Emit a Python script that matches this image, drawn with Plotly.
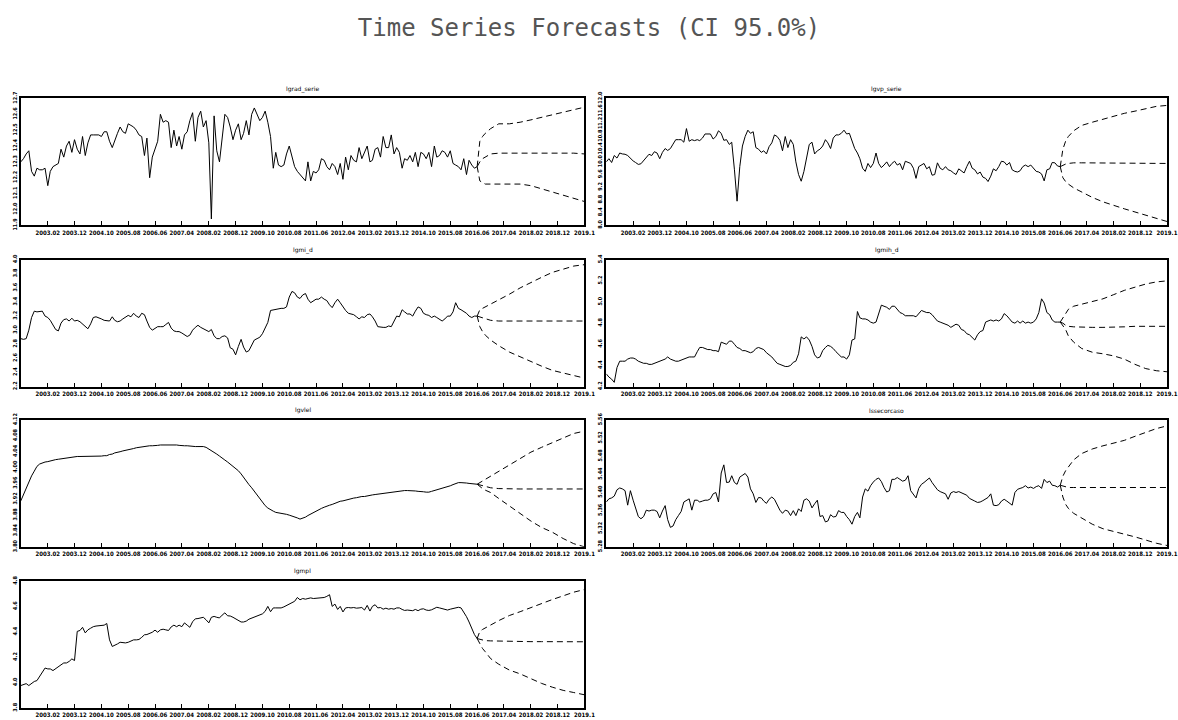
import pandas as pd
import plotly.graph_objects as go

# ---- time axis -------------------------------------------------------------
first_month = "2002-04-01"
n_hist = 171          # 2002.04 .. 2016.06
horizon = 40          # forecast out to 2019.10
fc_steps = [0, 1, 2, 3, 5, 8, 12, 16, 20, 24, 28, 32, 36, 40]

tick_labels = ["2003.02", "2003.12", "2004.10", "2005.08", "2006.06", "2007.04",
               "2008.02", "2008.12", "2009.10", "2010.08", "2011.06", "2012.04",
               "2013.02", "2013.12", "2014.10", "2015.08", "2016.06", "2017.04",
               "2018.02", "2018.12", "2019.1"]

# ---- observed series -------------------------------------------------------
lgrad_serie = [
    12.30, 12.32, 12.35, 12.37, 12.24, 12.21, 12.26, 12.25, 12.25, 12.26,
    12.15, 12.24, 12.27, 12.28, 12.29, 12.38, 12.33, 12.40, 12.43, 12.36,
    12.44, 12.38, 12.35, 12.46, 12.34, 12.42, 12.47, 12.47, 12.47, 12.47,
    12.46, 12.49, 12.49, 12.43, 12.39, 12.44, 12.48, 12.52, 12.49, 12.48,
    12.54, 12.53, 12.52, 12.50, 12.47, 12.46, 12.34, 12.45, 12.20, 12.33,
    12.38, 12.43, 12.60, 12.55, 12.56, 12.55, 12.39, 12.50, 12.40, 12.46,
    12.38, 12.47, 12.49, 12.56, 12.61, 12.43, 12.58, 12.62, 12.52, 12.56,
    12.42, 11.94, 12.59, 12.37, 12.30, 12.46, 12.60, 12.58, 12.52, 12.44,
    12.50, 12.54, 12.44, 12.48, 12.56, 12.47, 12.60, 12.64, 12.60, 12.56,
    12.58, 12.62, 12.55, 12.46, 12.26, 12.36, 12.28, 12.27, 12.28, 12.35,
    12.40, 12.33, 12.27, 12.24, 12.22, 12.20, 12.18, 12.30, 12.18, 12.24,
    12.23, 12.25, 12.32, 12.31, 12.27, 12.25, 12.29, 12.27, 12.22, 12.29,
    12.19, 12.33, 12.25, 12.34, 12.31, 12.30, 12.39, 12.32, 12.36, 12.40,
    12.30, 12.31, 12.38, 12.39, 12.33, 12.46, 12.39, 12.39, 12.47, 12.35,
    12.39, 12.36, 12.26, 12.32, 12.31, 12.34, 12.30, 12.36, 12.27, 12.36,
    12.35, 12.32, 12.36, 12.27, 12.40, 12.33, 12.34, 12.37, 12.36, 12.33,
    12.37, 12.29, 12.28, 12.27, 12.25, 12.32, 12.22, 12.31, 12.28, 12.26,
    12.27]

lgvp_serie = [
    10.00, 10.10, 9.98, 10.20, 10.12, 10.28, 10.25, 10.24, 10.20, 10.10,
    10.03, 9.98, 9.92, 9.94, 10.04, 10.15, 10.24, 10.20, 10.32, 10.28,
    10.10, 10.30, 10.42, 10.36, 10.42, 10.56, 10.70, 10.70, 10.70, 10.62,
    11.05, 10.65, 10.70, 10.67, 10.70, 10.67, 10.75, 10.88, 10.88, 10.88,
    10.72, 10.80, 10.98, 10.90, 10.68, 10.70, 10.55, 10.62, 9.75, 8.76,
    9.85, 10.50, 10.80, 11.00, 10.90, 10.95, 10.45, 10.40, 10.30, 10.35,
    10.25, 10.48, 10.60, 10.85, 10.80, 10.68, 10.35, 10.80, 10.45, 10.70,
    10.55, 10.00, 9.60, 9.39, 9.70, 10.10, 10.55, 10.62, 10.25, 10.35,
    10.40, 10.50, 10.70, 10.60, 10.42, 10.75, 10.85, 10.85, 10.90, 11.00,
    10.88, 10.90, 10.65, 10.42, 10.28, 10.10, 9.80, 9.70, 9.95, 9.82,
    9.95, 10.28, 9.95, 9.82, 9.90, 10.00, 9.85, 9.95, 10.02, 9.90,
    9.95, 9.75, 10.02, 9.98, 9.95, 9.80, 9.48, 9.85, 9.90, 9.95,
    9.78, 9.85, 9.58, 9.60, 9.97, 9.80, 9.75, 9.85, 9.75, 9.72,
    9.65, 9.60, 9.78, 9.72, 9.65, 9.85, 10.02, 9.80, 9.75, 9.62,
    9.68, 9.52, 9.48, 9.38, 9.55, 9.78, 9.72, 9.85, 10.02, 10.00,
    9.90, 9.98, 9.75, 9.70, 9.68, 9.72, 9.85, 9.90, 9.85, 9.90,
    9.78, 9.70, 9.68, 9.62, 9.40, 9.75, 9.78, 9.98, 9.97, 9.87,
    9.85]

lgmi_d = [
    2.88, 2.87, 2.88, 3.00, 3.18, 3.27, 3.26, 3.26, 3.27, 3.20,
    3.18, 3.14, 3.07, 3.01, 2.99, 3.10, 3.15, 3.16, 3.13, 3.17,
    3.13, 3.14, 3.12, 3.09, 3.05, 3.02, 3.09, 3.18, 3.19, 3.18,
    3.16, 3.14, 3.13, 3.13, 3.19, 3.14, 3.12, 3.13, 3.16, 3.19,
    3.21, 3.19, 3.24, 3.20, 3.18, 3.24, 3.22, 3.13, 3.04, 3.00,
    3.02, 3.05, 3.05, 3.05, 3.08, 3.11, 3.03, 2.99, 2.98, 2.98,
    2.96, 2.94, 2.91, 2.93, 3.00, 3.04, 3.07, 3.04, 3.02, 3.00,
    2.98, 3.01, 2.92, 2.88, 2.88, 2.91, 2.92, 2.89, 2.75, 2.73,
    2.65, 2.77, 2.87, 2.76, 2.69, 2.71, 2.79, 2.86, 2.88, 2.90,
    2.95, 3.04, 3.11, 3.28, 3.29, 3.30, 3.30, 3.31, 3.31, 3.33,
    3.47, 3.55, 3.53, 3.47, 3.45, 3.50, 3.52, 3.44, 3.39, 3.42,
    3.44, 3.44, 3.47, 3.44, 3.42, 3.36, 3.32, 3.39, 3.44, 3.39,
    3.33, 3.28, 3.24, 3.23, 3.22, 3.19, 3.16, 3.19, 3.18, 3.22,
    3.23, 3.19, 3.13, 3.05, 3.04, 3.04, 3.04, 3.06, 3.05, 3.12,
    3.20, 3.19, 3.29, 3.26, 3.23, 3.23, 3.20, 3.27, 3.33, 3.31,
    3.24, 3.22, 3.21, 3.18, 3.20, 3.18, 3.16, 3.13, 3.16, 3.20,
    3.20, 3.26, 3.39, 3.31, 3.29, 3.27, 3.24, 3.20, 3.18, 3.20,
    3.20]

lgmih_d = [
    4.32, 4.29, 4.27, 4.24, 4.38, 4.44, 4.44, 4.44, 4.46, 4.47,
    4.47, 4.46, 4.44, 4.43, 4.42, 4.42, 4.41, 4.41, 4.42, 4.43,
    4.44, 4.45, 4.46, 4.48, 4.46, 4.45, 4.44, 4.44, 4.45, 4.46,
    4.47, 4.48, 4.48, 4.48, 4.53, 4.57, 4.57, 4.56, 4.55, 4.55,
    4.54, 4.54, 4.53, 4.62, 4.61, 4.60, 4.63, 4.63, 4.60, 4.57,
    4.56, 4.54, 4.54, 4.53, 4.52, 4.53, 4.56, 4.57, 4.56, 4.55,
    4.52, 4.50, 4.48, 4.45, 4.42, 4.41, 4.40, 4.39, 4.39, 4.40,
    4.43, 4.44, 4.51, 4.67, 4.65, 4.67, 4.64, 4.58, 4.50, 4.47,
    4.48, 4.54, 4.57, 4.59, 4.58, 4.56, 4.53, 4.50, 4.48, 4.48,
    4.46, 4.50, 4.64, 4.65, 4.91, 4.85, 4.84, 4.84, 4.83, 4.81,
    4.80, 4.81, 4.89, 4.97, 4.96, 4.95, 4.93, 4.96, 4.96, 4.93,
    4.90, 4.89, 4.87, 4.87, 4.87, 4.87, 4.86, 4.89, 4.92, 4.91,
    4.90, 4.90, 4.88, 4.85, 4.82, 4.81, 4.80, 4.79, 4.78, 4.76,
    4.78, 4.79, 4.78, 4.74, 4.73, 4.70, 4.69, 4.66, 4.64, 4.69,
    4.72, 4.73, 4.81, 4.82, 4.83, 4.82, 4.83, 4.82, 4.84, 4.89,
    4.87, 4.84, 4.81, 4.80, 4.82, 4.80, 4.82, 4.80, 4.81, 4.80,
    4.81, 4.84, 4.90, 5.03, 4.99, 4.90, 4.88, 4.83, 4.81, 4.81,
    4.81]

lgvlel = [
    3.916, 3.932, 3.948, 3.962, 3.979, 3.991, 4.003, 4.009, 4.012, 4.014,
    4.015, 4.017, 4.018, 4.020, 4.021, 4.022, 4.024, 4.025, 4.026, 4.027,
    4.027, 4.028, 4.028, 4.028, 4.028, 4.028, 4.029, 4.029, 4.029, 4.029,
    4.029, 4.030, 4.030, 4.033, 4.034, 4.037, 4.038, 4.040, 4.042, 4.043,
    4.045, 4.046, 4.048, 4.050, 4.051, 4.053, 4.054, 4.054, 4.055, 4.055,
    4.055, 4.056, 4.057, 4.057, 4.058, 4.058, 4.058, 4.057, 4.057, 4.056,
    4.055, 4.055, 4.055, 4.054, 4.053, 4.053, 4.053, 4.053, 4.053, 4.051,
    4.047, 4.044, 4.039, 4.034, 4.029, 4.025, 4.019, 4.014, 4.009, 4.004,
    3.999, 3.992, 3.984, 3.975, 3.966, 3.957, 3.949, 3.940, 3.931, 3.921,
    3.912, 3.904, 3.898, 3.893, 3.890, 3.887, 3.886, 3.884, 3.883, 3.882,
    3.880, 3.878, 3.876, 3.873, 3.870, 3.872, 3.875, 3.879, 3.883, 3.887,
    3.891, 3.894, 3.897, 3.900, 3.903, 3.905, 3.907, 3.910, 3.912, 3.915,
    3.916, 3.918, 3.920, 3.921, 3.923, 3.924, 3.926, 3.927, 3.927, 3.929,
    3.930, 3.931, 3.932, 3.933, 3.934, 3.935, 3.936, 3.937, 3.938, 3.939,
    3.940, 3.941, 3.942, 3.942, 3.942, 3.942, 3.941, 3.941, 3.940, 3.940,
    3.939, 3.938, 3.938, 3.940, 3.942, 3.944, 3.945, 3.947, 3.949, 3.952,
    3.954, 3.957, 3.959, 3.962, 3.962, 3.962, 3.961, 3.960, 3.959, 3.958,
    3.958]

lssecorcaso = [
    5.379, 5.386, 5.388, 5.392, 5.406, 5.410, 5.408, 5.404, 5.372, 5.404,
    5.383, 5.364, 5.347, 5.342, 5.347, 5.361, 5.359, 5.361, 5.361, 5.358,
    5.344, 5.359, 5.371, 5.340, 5.323, 5.326, 5.340, 5.349, 5.358, 5.379,
    5.382, 5.386, 5.361, 5.383, 5.383, 5.379, 5.381, 5.383, 5.383, 5.386,
    5.397, 5.400, 5.379, 5.443, 5.461, 5.422, 5.423, 5.437, 5.422, 5.418,
    5.434, 5.439, 5.442, 5.434, 5.408, 5.397, 5.378, 5.389, 5.388, 5.381,
    5.376, 5.385, 5.390, 5.385, 5.372, 5.361, 5.354, 5.361, 5.359, 5.349,
    5.360, 5.349, 5.364, 5.358, 5.383, 5.386, 5.381, 5.366, 5.375, 5.383,
    5.347, 5.349, 5.335, 5.337, 5.351, 5.346, 5.347, 5.360, 5.356, 5.356,
    5.347, 5.340, 5.330, 5.347, 5.356, 5.344, 5.390, 5.408, 5.403, 5.415,
    5.423, 5.429, 5.432, 5.424, 5.411, 5.401, 5.404, 5.429, 5.429, 5.433,
    5.429, 5.425, 5.427, 5.437, 5.404, 5.397, 5.388, 5.409, 5.418, 5.422,
    5.427, 5.432, 5.422, 5.413, 5.406, 5.402, 5.400, 5.397, 5.385, 5.399,
    5.402, 5.400, 5.402, 5.399, 5.397, 5.394, 5.387, 5.383, 5.381, 5.378,
    5.379, 5.382, 5.385, 5.389, 5.397, 5.372, 5.371, 5.373, 5.381, 5.385,
    5.381, 5.376, 5.372, 5.400, 5.407, 5.409, 5.411, 5.415, 5.410, 5.412,
    5.409, 5.413, 5.415, 5.409, 5.429, 5.422, 5.425, 5.416, 5.415, 5.412,
    5.416]

lgmpl = [
    3.978, 3.985, 3.993, 3.978, 3.998, 4.010, 4.017, 4.047, 4.084, 4.116,
    4.109, 4.109, 4.096, 4.109, 4.123, 4.141, 4.156, 4.156, 4.168, 4.188,
    4.175, 4.405, 4.412, 4.437, 4.393, 4.417, 4.430, 4.442, 4.447, 4.449,
    4.454, 4.454, 4.467, 4.338, 4.286, 4.294, 4.306, 4.319, 4.314, 4.314,
    4.319, 4.328, 4.338, 4.338, 4.341, 4.358, 4.378, 4.380, 4.388, 4.398,
    4.415, 4.398, 4.417, 4.422, 4.417, 4.412, 4.440, 4.454, 4.442, 4.454,
    4.442, 4.472, 4.454, 4.437, 4.481, 4.504, 4.506, 4.511, 4.516, 4.496,
    4.472, 4.516, 4.523, 4.516, 4.511, 4.533, 4.551, 4.528, 4.526, 4.516,
    4.504, 4.486, 4.479, 4.479, 4.486, 4.501, 4.509, 4.521, 4.528, 4.538,
    4.543, 4.563, 4.602, 4.560, 4.590, 4.590, 4.590, 4.590, 4.598, 4.610,
    4.622, 4.635, 4.642, 4.672, 4.654, 4.664, 4.659, 4.664, 4.669, 4.664,
    4.667, 4.667, 4.667, 4.672, 4.681, 4.694, 4.602, 4.620, 4.578, 4.602,
    4.558, 4.590, 4.593, 4.590, 4.593, 4.588, 4.590, 4.593, 4.573, 4.610,
    4.565, 4.602, 4.615, 4.590, 4.593, 4.580, 4.588, 4.580, 4.585, 4.580,
    4.590, 4.590, 4.578, 4.570, 4.573, 4.570, 4.568, 4.578, 4.568, 4.580,
    4.583, 4.573, 4.570, 4.575, 4.588, 4.595, 4.590, 4.585, 4.578, 4.573,
    4.580, 4.585, 4.590, 4.595, 4.590, 4.560, 4.521, 4.479, 4.430, 4.380,
    4.348]

# ---- forecasts (point, lower 95%, upper 95%) at fc_steps ---------------------
lgrad_fc = [12.27, 12.30, 12.32, 12.33, 12.35, 12.355, 12.355, 12.355, 12.355, 12.355, 12.355, 12.355, 12.355, 12.35]
lgrad_lo = [12.27, 12.18, 12.17, 12.16, 12.16, 12.16, 12.16, 12.16, 12.15, 12.13, 12.11, 12.09, 12.07, 12.05]
lgrad_hi = [12.27, 12.43, 12.46, 12.48, 12.51, 12.54, 12.54, 12.55, 12.565, 12.58, 12.60, 12.615, 12.63, 12.645]

lgvp_fc = [9.85, 9.90, 9.93, 9.95, 9.97, 9.97, 9.97, 9.97, 9.97, 9.97, 9.96, 9.96, 9.95, 9.95]
lgvp_lo = [9.85, 9.50, 9.38, 9.30, 9.18, 9.04, 8.88, 8.74, 8.62, 8.52, 8.42, 8.32, 8.22, 8.12]
lgvp_hi = [9.85, 10.40, 10.65, 10.80, 10.98, 11.15, 11.25, 11.35, 11.45, 11.53, 11.60, 11.67, 11.75, 11.78]

lgmi_fc = [3.20, 3.19, 3.17, 3.16, 3.14, 3.13, 3.13, 3.13, 3.13, 3.13, 3.13, 3.13, 3.13, 3.13]
lgmi_lo = [3.20, 3.05, 2.98, 2.93, 2.86, 2.78, 2.69, 2.62, 2.55, 2.49, 2.43, 2.39, 2.35, 2.32]
lgmi_hi = [3.20, 3.29, 3.31, 3.33, 3.37, 3.43, 3.51, 3.60, 3.68, 3.75, 3.82, 3.87, 3.91, 3.93]

lgmih_fc = [4.81, 4.80, 4.78, 4.77, 4.765, 4.76, 4.76, 4.76, 4.76, 4.765, 4.77, 4.77, 4.77, 4.77]
lgmih_lo = [4.81, 4.78, 4.74, 4.68, 4.62, 4.56, 4.525, 4.51, 4.49, 4.46, 4.41, 4.37, 4.35, 4.34]
lgmih_hi = [4.81, 4.85, 4.89, 4.93, 4.96, 4.98, 5.01, 5.03, 5.07, 5.11, 5.14, 5.17, 5.19, 5.20]

lgvlel_fc = [3.958, 3.956, 3.954, 3.952, 3.949, 3.947, 3.946, 3.946, 3.946, 3.946, 3.946, 3.946, 3.946, 3.946]
lgvlel_lo = [3.958, 3.952, 3.947, 3.943, 3.937, 3.922, 3.903, 3.885, 3.865, 3.849, 3.837, 3.821, 3.808, 3.800]
lgvlel_hi = [3.958, 3.962, 3.966, 3.969, 3.979, 3.991, 4.007, 4.023, 4.039, 4.051, 4.063, 4.075, 4.086, 4.092]

lssec_fc = [5.416, 5.414, 5.412, 5.411, 5.411, 5.411, 5.411, 5.411, 5.411, 5.411, 5.411, 5.411, 5.411, 5.411]
lssec_lo = [5.416, 5.390, 5.374, 5.365, 5.354, 5.344, 5.330, 5.320, 5.314, 5.309, 5.302, 5.295, 5.288, 5.283]
lssec_hi = [5.416, 5.436, 5.448, 5.457, 5.472, 5.486, 5.496, 5.503, 5.509, 5.515, 5.524, 5.532, 5.541, 5.547]

lgmpl_fc = [4.348, 4.342, 4.336, 4.332, 4.330, 4.328, 4.326, 4.325, 4.324, 4.324, 4.323, 4.323, 4.323, 4.323]
lgmpl_lo = [4.348, 4.306, 4.270, 4.244, 4.190, 4.146, 4.100, 4.070, 4.030, 3.995, 3.965, 3.940, 3.923, 3.905]
lgmpl_hi = [4.348, 4.405, 4.420, 4.430, 4.455, 4.490, 4.530, 4.560, 4.594, 4.626, 4.656, 4.685, 4.714, 4.735]

# ---- panel table ------------------------------------------------------------
# (title, history, point fc, lower, upper, y-range, y step, tick format, column, row)
panels = [
    ("lgrad_serie", lgrad_serie, lgrad_fc, lgrad_lo, lgrad_hi, (11.9, 12.7), 0.1, ".1f", 0, 0),
    ("lgvp_serie", lgvp_serie, lgvp_fc, lgvp_lo, lgvp_hi, (8.0, 12.0), 0.4, ".1f", 1, 0),
    ("lgmi_d", lgmi_d, lgmi_fc, lgmi_lo, lgmi_hi, (2.2, 4.0), 0.2, ".1f", 0, 1),
    ("lgmih_d", lgmih_d, lgmih_fc, lgmih_lo, lgmih_hi, (4.2, 5.4), 0.2, ".1f", 1, 1),
    ("lgvlel", lgvlel, lgvlel_fc, lgvlel_lo, lgvlel_hi, (3.80, 4.12), 0.04, ".2f", 0, 2),
    ("lssecorcaso", lssecorcaso, lssec_fc, lssec_lo, lssec_hi, (5.28, 5.56), 0.04, ".2f", 1, 2),
    ("lgmpl", lgmpl, lgmpl_fc, lgmpl_lo, lgmpl_hi, (3.8, 4.8), 0.2, ".1f", 0, 3),
]

W, H = 1178, 720
col_px = [(21, 590), (612, 1178)]
row_px = [(93, 222), (257, 386), (420, 549), (584, 713)]

months = pd.date_range(first_month, periods=n_hist + horizon, freq="MS")
hist_dates = months[:n_hist]
fc_dates = [months[n_hist - 1 + s] for s in fc_steps]
tick_dates = list(months[10::10])

x_tick_font = dict(family="DejaVu Sans Condensed, DejaVu Sans", size=6, color="black", weight="bold")
y_tick_font = dict(family="DejaVu Sans Condensed, DejaVu Sans", size=5.5, color="black", weight="bold")

fig = go.Figure()
annotations = []
for i, (name, hist, fc, lo, hi, yr, dy, fmt, c, r) in enumerate(panels, start=1):
    xa = "x" if i == 1 else f"x{i}"
    ya = "y" if i == 1 else f"y{i}"
    fig.add_trace(go.Scatter(x=hist_dates, y=hist, mode="lines",
                             line=dict(color="black", width=1),
                             xaxis=xa, yaxis=ya, showlegend=False))
    for band in (hi, fc, lo):
        fig.add_trace(go.Scatter(x=fc_dates, y=band, mode="lines",
                                 line=dict(color="black", width=1, dash="6px,4px"),
                                 xaxis=xa, yaxis=ya, showlegend=False))
    x0, x1 = col_px[c]
    top, bot = row_px[r]
    dom_x = [x0 / W, min(x1 / W, 1.0)]
    dom_y = [1 - bot / H, 1 - top / H]
    fig.update_layout(**{
        ("xaxis" if i == 1 else f"xaxis{i}"): dict(
            domain=dom_x, anchor=ya, range=[months[0], months[-1]],
            tickmode="array", tickvals=tick_dates, ticktext=tick_labels,
            ticks="inside", ticklen=4, tickwidth=1, tickcolor="black",
            showline=True, linewidth=2, linecolor="black", mirror=True,
            showgrid=False, zeroline=False, tickfont=x_tick_font, tickangle=0),
        ("yaxis" if i == 1 else f"yaxis{i}"): dict(
            domain=dom_y, anchor=xa, range=list(yr), dtick=dy, tick0=yr[0],
            tickformat=fmt, ticks="", showline=True, linewidth=2,
            linecolor="black", mirror=True, showgrid=False, zeroline=False,
            tickfont=y_tick_font, tickangle=-90),
    })
    annotations.append(dict(text=name, x=(dom_x[0] + dom_x[1]) / 2, y=dom_y[1] + 4 / H,
                            xref="paper", yref="paper", xanchor="center", yanchor="bottom",
                            showarrow=False,
                            font=dict(family="DejaVu Sans", size=6, color="black")))

fig.update_layout(
    width=W, height=H,
    margin=dict(l=0, r=0, t=0, b=0),
    paper_bgcolor="white", plot_bgcolor="white",
    title=dict(text="Time Series Forecasts (CI 95.0%)", x=0.5, xanchor="center",
               y=1 - 28 / H, yanchor="middle",
               font=dict(family="DejaVu Sans Mono", size=24, color="#555")),
    annotations=annotations,
)

fig.write_html("out.html")
